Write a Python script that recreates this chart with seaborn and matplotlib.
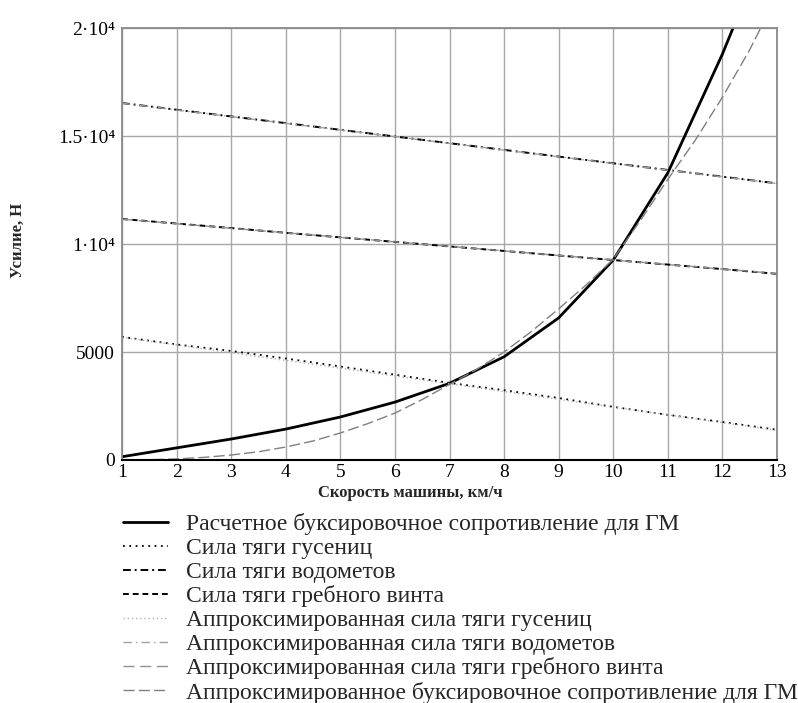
import numpy as np
import pandas as pd
import matplotlib
matplotlib.use("Agg")
import matplotlib.pyplot as plt
import seaborn as sns

# Speed grid, km/h
speed = [1, 2, 3, 4, 5, 6, 7, 8, 9, 10, 11, 12, 13]
# Calculated towing resistance, N
resistance = [150, 560, 970, 1430, 1990, 2680, 3550, 4780, 6580, 9260, 13300, 18800, 25000]
# Track thrust, N
track = [5700, 5350, 5050, 4700, 4330, 3950, 3570, 3230, 2870, 2460, 2090, 1760, 1400]
# Water-jet thrust, N
waterjet = [16530, 16220, 15910, 15600, 15290, 14980, 14670, 14360, 14050, 13740, 13430, 13120, 12810]
# Propeller thrust, N
propeller = [11160, 10950, 10740, 10520, 10310, 10100, 9890, 9680, 9470, 9260, 9050, 8840, 8620]

# Approximated curves (finer speed grid)
speed_fine = [1, 1.5, 2, 2.5, 3, 3.5, 4, 4.5, 5, 5.5, 6, 6.5, 7, 7.5, 8, 8.5,
              9, 9.5, 10, 10.5, 11, 11.5, 12, 12.5, 13]
resistance_approx = [0, 10, 50, 120, 230, 380, 600, 880, 1250, 1680, 2170, 2800,
                     3500, 4200, 5000, 5950, 7000, 8100, 9300, 11100, 13000,
                     14800, 16800, 19000, 21500]
track_approx = [5680, 5500, 5330, 5150, 4970, 4790, 4610, 4430, 4250, 4070, 3890,
                3710, 3530, 3350, 3170, 2990, 2810, 2630, 2450, 2270, 2090, 1910,
                1730, 1550, 1370]
waterjet_approx = [16520, 16370, 16210, 16060, 15900, 15750, 15590, 15440, 15280,
                   15130, 14970, 14820, 14660, 14510, 14350, 14200, 14040, 13890,
                   13730, 13580, 13420, 13270, 13110, 12960, 12800]
propeller_approx = [11150, 11050, 10940, 10840, 10730, 10630, 10520, 10420, 10310,
                    10210, 10100, 10000, 9890, 9790, 9680, 9580, 9470, 9370, 9260,
                    9160, 9050, 8950, 8840, 8740, 8630]

labels = [
    "Расчетное буксировочное сопротивление для ГМ",
    "Сила тяги гусениц",
    "Сила тяги водометов",
    "Сила тяги гребного винта",
    "Аппроксимированная сила тяги гусениц",
    "Аппроксимированная сила тяги водометов",
    "Аппроксимированная сила тяги гребного винта",
    "Аппроксимированное буксировочное сопротивление для ГМ",
]

sns.set_theme(style="white")
plt.rcParams["font.family"] = ["Liberation Serif", "DejaVu Serif"]

fig = plt.figure(figsize=(7.98, 7.03), dpi=100)
ax = fig.add_axes([0.1529, 0.3457, 0.9737 - 0.1529, 0.960 - 0.3457])

series = [
    (speed, resistance, dict(color="black", lw=2.0, ls="-")),
    (speed, track, dict(color="black", lw=1.3, ls=(0, (1, 2.5)))),
    (speed, waterjet, dict(color="black", lw=1.4, ls=(0, (4, 2, 1, 2)))),
    (speed, propeller, dict(color="black", lw=1.4, ls=(0, (3, 2)))),
    (speed_fine, track_approx, dict(color="#b0b0b0", lw=1.0, ls=(0, (1, 2)))),
    (speed_fine, waterjet_approx, dict(color="#a0a0a0", lw=1.0, ls=(0, (6, 3, 1, 3)))),
    (speed_fine, propeller_approx, dict(color="#909090", lw=1.0, ls=(0, (8, 4)))),
    (speed_fine, resistance_approx, dict(color="#808080", lw=1.0, ls=(0, (8, 3)))),
]

handles = []
for (xs, ys, style), lab in zip(series, labels):
    df = pd.DataFrame({"v": xs, "F": ys})
    sns.lineplot(data=df, x="v", y="F", ax=ax, label=lab, **style)
    handles.append(ax.get_lines()[-1])
ax.get_legend().remove()

ax.set_xlim(1, 13)
ax.set_ylim(0, 20000)
ax.set_xticks(speed)
ax.set_xticklabels([str(s) for s in speed])
ax.set_yticks([0, 5000, 10000, 15000, 20000])
ax.set_yticklabels(["0", "5000", "1·10⁴", "1.5·10⁴", "2·10⁴"])
ax.tick_params(axis="both", labelsize=14, length=0, colors="black")
ax.tick_params(axis="x", pad=3)
ax.tick_params(axis="y", pad=5)
ax.grid(True, color="#a8a8a8", lw=1.0)
for side in ("top", "left", "right"):
    ax.spines[side].set_color("#8a8a8a")
    ax.spines[side].set_linewidth(1.3)
ax.spines["bottom"].set_color("black")
ax.spines["bottom"].set_linewidth(1.5)

ax.set_xlabel("Скорость машины, км/ч", fontsize=12, fontweight="bold")
ax.set_ylabel("Усилие, Н", fontsize=12, fontweight="bold")
# label positions in axes coordinates
ax.xaxis.set_label_coords((410 - 122) / 655, -(493 - 460) / 432)
ax.yaxis.set_label_coords(-(122 - 18) / 655, (460 - 240) / 432)
ax.xaxis.label.set_va("center")
ax.yaxis.label.set_va("center")

fig.legend(handles=handles, labels=labels, loc="upper left",
           bbox_to_anchor=(123 / 798, 1 - 513 / 703), frameon=False,
           fontsize=17, handlelength=1.9, handletextpad=0.76,
           labelspacing=0.1, borderaxespad=0, borderpad=0)

fig.savefig("out.png", dpi=100, facecolor="white")
